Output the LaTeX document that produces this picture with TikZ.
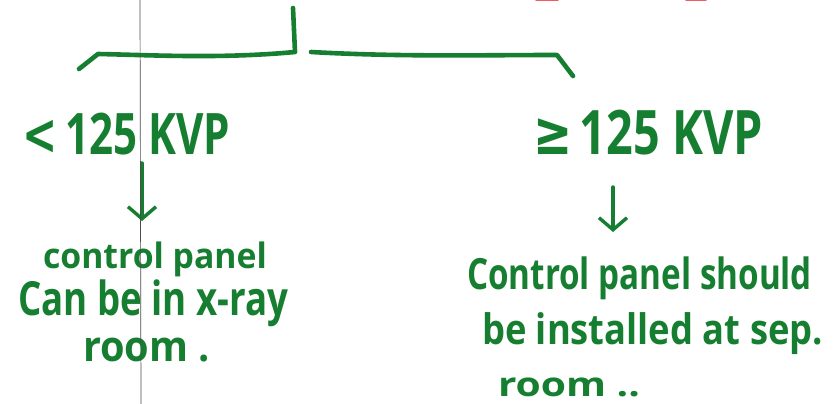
\documentclass[tikz,border=0pt]{standalone}
\usepackage{fontspec}
\setmainfont{Open Sans}
\newfontfamily\symf{DejaVu Sans}
\usetikzlibrary{arrows.meta}
\definecolor{ink}{RGB}{22,126,48}
\definecolor{redink}{RGB}{240,90,100}
\begin{document}
\begin{tikzpicture}[x=1pt,y=-1pt,
  pen/.style={draw=ink, line width=4.6pt, line cap=round, line join=round},
  arr/.style={draw=ink, line width=3.4pt, line cap=round, -{Straight Barb[length=12pt,width=28pt,line width=3.4pt]}},
  txt/.style={inner sep=0pt, outer sep=0pt, anchor=north west, text=ink, font=\bfseries}]
\useasboundingbox[fill=white] (0,0) rectangle (839,404);
% faint red marks at the top edge (cut-off text)
\draw[redink, line width=1.4pt, line cap=round] (536,0.3) -- (558,0.3);
\draw[redink, line width=1.4pt, line cap=round] (686,0.3) -- (706,0.3);
% bracket
\coordinate (top) at (293,8);
\coordinate (j) at (295,52);
\coordinate (lb) at (98,54);
\coordinate (lh) at (79,69);
\coordinate (rb0) at (311,52);
\coordinate (rb1) at (557,55);
\coordinate (rh) at (573,76);
\draw[pen] (top) -- (j) .. controls (220,59) and (150,55) .. (lb) -- (lh);
\draw[pen] (rb0) .. controls (400,57) and (480,55) .. (rb1) -- (rh);
% labels
\node[txt] (lt) at (23,113) {\resizebox*{207pt}{42pt}{\symf\bfseries <\,\rmfamily\bfseries 125 KVP}};
\node[txt] (rt) at (533,110) {\resizebox*{230pt}{45pt}{\symf\bfseries ≥\,\rmfamily\bfseries 125 KVP}};
% left text
\node[txt] (l1) at (43,242) {\resizebox*{224pt}{35pt}{control panel}};
\node[txt] (l2) at (18,280) {\resizebox*{270pt}{47pt}{Can be in x-ray}};
\node[txt] (l3) at (83,338) {\resizebox*{127pt}{24pt}{room .}};
% right text
\node[txt] (r1) at (467,257) {\resizebox*{345pt}{43pt}{Control panel should}};
\node[txt] (r2) at (482,313) {\resizebox*{341pt}{42pt}{be installed at sep.}};
\node[txt] (r3) at (498,378) {\resizebox*{142pt}{19pt}{room ..}};
% arrows
\coordinate (a1s) at (142,163);
\coordinate (a1e) at (142,221);
\coordinate (a2s) at (613,187);
\coordinate (a2e) at (613,232);
\draw[arr] (a1s) -- (a1e);
\draw[arr] (a2s) -- (a2e);
% thin ruled line of the page
\draw[black!70, line width=0.7pt] (140,0) -- (141,404);
\end{tikzpicture}
\end{document}
